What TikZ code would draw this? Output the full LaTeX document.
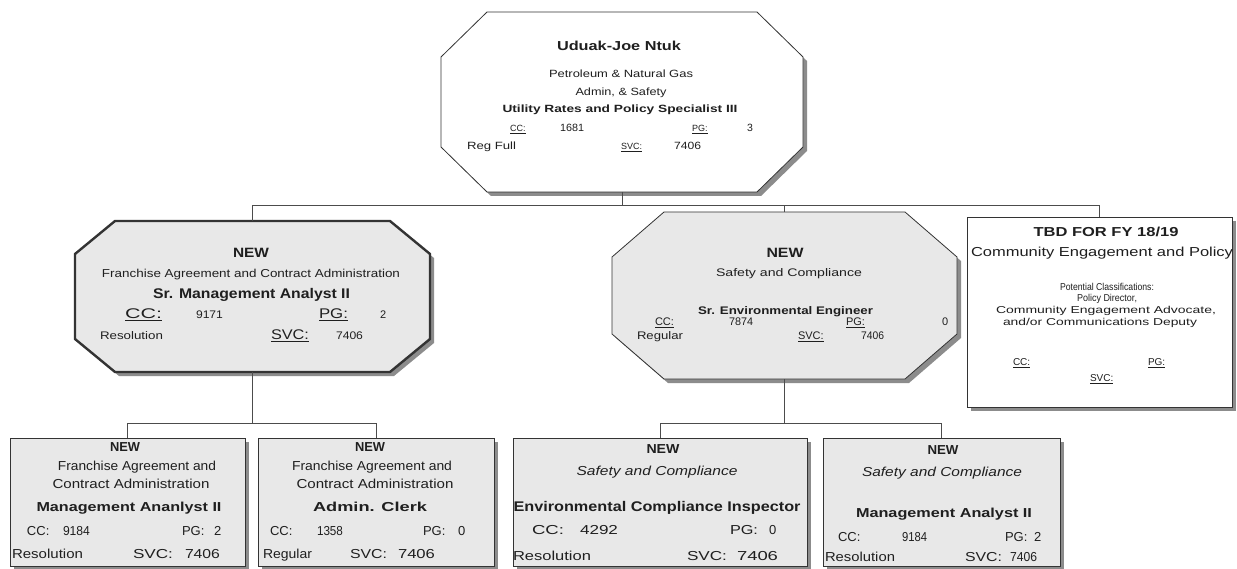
\documentclass[tikz,border=0pt]{standalone}
\usepackage{fontspec}
\setmainfont{Liberation Sans}
\usepackage{graphicx}
\definecolor{stip}{gray}{0.91}
\definecolor{shd}{gray}{0.55}
\definecolor{ink}{gray}{0.12}
\newsavebox\fwbox
\newcommand\fw[2]{\sbox\fwbox{#2}\scalebox{\fpeval{round(#1/(\the\wd\fwbox),4)}}[1]{\usebox\fwbox}}
\newcommand\fs[1]{\fontsize{#1}{#1}\selectfont}
\newcommand\octpath[5]{([xshift=#2+#4,yshift=#5]#1.north west) -- ([xshift=-#2+#4,yshift=#5]#1.north east) -- ([xshift=#4,yshift=-#3+#5]#1.north east) -- ([xshift=#4,yshift=#3+#5]#1.south east) -- ([xshift=-#2+#4,yshift=#5]#1.south east) -- ([xshift=#2+#4,yshift=#5]#1.south west) -- ([xshift=#4,yshift=#3+#5]#1.south west) -- ([xshift=#4,yshift=-#3+#5]#1.north west) -- cycle}
\begin{document}
\begin{tikzpicture}[x=1pt,y=-1pt,
  frame/.style={inner sep=0pt,outer sep=0pt,draw=none},
  boxline/.style={draw=black!80,line width=0.8pt},
  conn/.style={draw=black!70,line width=0.8pt},
  tx/.style={inner sep=0pt,outer sep=0pt,anchor=mid,text=ink,yshift=-1.2pt},
  tw/.style={tx,anchor=mid west}]
\useasboundingbox[fill=white] (0,0) rectangle (1237,569);
% frames
\node[frame,minimum width=362pt,minimum height=180pt] (top) at (622,102) {};
\node[frame,minimum width=355pt,minimum height=151pt] (left) at (252.5,296.5) {};
\node[frame,minimum width=345pt,minimum height=167pt] (mid) at (784.5,295.5) {};
\node[frame,minimum width=265pt,minimum height=190pt] (right) at (1099.5,312) {};
\node[frame,minimum width=235pt,minimum height=128pt] (b1) at (127.5,502) {};
\node[frame,minimum width=236pt,minimum height=128pt] (b2) at (376,502) {};
\node[frame,minimum width=294pt,minimum height=128pt] (b3) at (660,502) {};
\node[frame,minimum width=237pt,minimum height=128pt] (b4) at (941.5,502) {};
% shapes
\fill[shd] \octpath{top}{46}{45}{4}{-4};
\draw[boxline,fill=white] \octpath{top}{46}{45}{0}{0};
\fill[shd] \octpath{left}{40}{33}{4}{-4};
\draw[boxline,line width=2.4pt,fill=stip] \octpath{left}{40}{33}{0}{0};
\fill[shd] \octpath{mid}{52}{45}{4}{-4};
\draw[boxline,fill=stip] \octpath{mid}{52}{45}{0}{0};
\fill[shd] ([shift={(4pt,-4pt)}]right.north west) rectangle ([shift={(4pt,-4pt)}]right.south east);
\draw[boxline,fill=white] (right.north west) rectangle (right.south east);
\foreach \b in {b1,b2,b3,b4}{
  \fill[shd] ([shift={(4pt,-4pt)}]\b.north west) rectangle ([shift={(4pt,-4pt)}]\b.south east);
  \draw[boxline,fill=stip] (\b.north west) rectangle (\b.south east);
}
% connectors
\coordinate (busA) at (622,205);
\coordinate (busB) at (0,423);
\draw[conn] (top.south) -- (top.south |- busA);
\draw[conn] (left.north) -- (left.north |- busA) -- (right.north |- busA) -- (right.north);
\draw[conn] (mid.north) -- (mid.north |- busA);
\draw[conn] (left.south) -- (left.south |- busB);
\draw[conn] (b1.north) -- (b1.north |- busB) -- (b2.north |- busB) -- (b2.north);
\draw[conn] (mid.south) -- (mid.south |- busB);
\draw[conn] (b3.north) -- (b3.north |- busB) -- (b4.north |- busB) -- (b4.north);
% top box text
\node[tx] (t1) at (619,47) {\fs{13}\bfseries\fw{124}{Uduak-Joe Ntuk}};
\node[tx] (t2) at (621,74) {\fs{10.5}\fw{144}{Petroleum \& Natural Gas}};
\node[tx] (t3) at (621,92) {\fs{10.5}\fw{91}{Admin, \& Safety}};
\node[tx] (t4) at (620,109) {\fs{10.5}\bfseries\fw{235}{Utility Rates and Policy Specialist III}};
\node[tw] (t5) at (510,128) {\fs{9}\underline{CC:}};
\node[tw] (t6) at (560,128) {\fs{10.5}\fw{24}{1681}};
\node[tw] (t7) at (692,128) {\fs{9}\underline{PG:}};
\node[tw] (t8) at (747,128) {\fs{10.5}3};
\node[tw] (t9) at (467,146) {\fs{10.5}\fw{49}{Reg Full}};
\node[tw] (t10) at (621,146) {\fs{9}\underline{SVC:}};
\node[tw] (t11) at (674,146) {\fs{10.5}\fw{27}{7406}};
% left box text
\node[tx] (l1) at (251,254) {\fs{13.5}\bfseries\fw{36}{NEW}};
\node[tx] (l2) at (251,274) {\fs{11.5}\fw{298}{Franchise Agreement and Contract Administration}};
\node[tx] (l3) at (251.5,295) {\fs{14}\bfseries\fw{197}{Sr. Management Analyst II}};
\node[tw] (l4) at (125,315) {\fs{14}\fw{37}{\underline{CC:}}};
\node[tw] (l5) at (196,315) {\fs{11}\fw{27}{9171}};
\node[tw] (l6) at (319,315) {\fs{14}\fw{29}{\underline{PG:}}};
\node[tw] (l7) at (380,315) {\fs{11}2};
\node[tw] (l8) at (100,336) {\fs{11}\fw{63}{Resolution}};
\node[tw] (l9) at (271,336) {\fs{14}\fw{38}{\underline{SVC:}}};
\node[tw] (l10) at (336,336) {\fs{11}\fw{27}{7406}};
% middle box text
\node[tx] (m1) at (785,254) {\fs{13.5}\bfseries\fw{37}{NEW}};
\node[tx] (m2) at (789,273) {\fs{11}\fw{146}{Safety and Compliance}};
\node[tx] (m3) at (785.5,311) {\fs{11}\bfseries\fw{175}{Sr. Environmental Engineer}};
\node[tw] (m4) at (655,322) {\fs{11}\underline{CC:}};
\node[tw] (m5) at (729,322) {\fs{11}\fw{24}{7874}};
\node[tw] (m6) at (846,322) {\fs{11}\underline{PG:}};
\node[tw] (m7) at (942,322) {\fs{11}0};
\node[tw] (m8) at (637,336) {\fs{11}\fw{46}{Regular}};
\node[tw] (m9) at (798,336) {\fs{11}\underline{SVC:}};
\node[tw] (m10) at (861,336) {\fs{11}\fw{23}{7406}};
% right box text
\node[tx] (r1) at (1106,233) {\fs{13}\bfseries\fw{145}{TBD FOR FY 18/19}};
\node[tx] (r2) at (1102,253) {\fs{13}\fw{262}{Community Engagement and Policy}};
\node[tx] (r3) at (1107,287) {\fs{10}\fw{94}{Potential Classifications:}};
\node[tx] (r4) at (1107,298) {\fs{10}\fw{60}{Policy Director,}};
\node[tx] (r5) at (1106,310) {\fs{10}\fw{220}{Community Engagement Advocate,}};
\node[tx] (r6) at (1100,322) {\fs{10}\fw{194}{and/or Communications Deputy}};
\node[tw] (r7) at (1013,362) {\fs{10}\underline{CC:}};
\node[tw] (r8) at (1148,362) {\fs{10}\underline{PG:}};
\node[tw] (r9) at (1090,378) {\fs{10}\underline{SVC:}};
% bottom box 1
\node[tx] (a1) at (125,448) {\fs{13}\bfseries\fw{30}{NEW}};
\node[tx] (a2) at (137,467) {\fs{13}\fw{158}{Franchise Agreement and}};
\node[tx] (a3) at (131,485) {\fs{13}\fw{157}{Contract Administration}};
\node[tx] (a4) at (129,508) {\fs{13}\bfseries\fw{185}{Management Ananlyst II}};
\node[tw] (a5) at (27,532) {\fs{13}CC:};
\node[tw] (a6) at (63,532) {\fs{13}\fw{27}{9184}};
\node[tw] (a7) at (182,532) {\fs{13}PG:};
\node[tw] (a8) at (214,532) {\fs{13}2};
\node[tw] (a9) at (12,555) {\fs{13}\fw{71}{Resolution}};
\node[tw] (a10) at (133,555) {\fs{13}\fw{40}{SVC:}};
\node[tw] (a11) at (185,555) {\fs{13}\fw{35}{7406}};
% bottom box 2
\node[tx] (c1) at (370,448) {\fs{13}\bfseries\fw{30}{NEW}};
\node[tx] (c2) at (372,467) {\fs{13}\fw{160}{Franchise Agreement and}};
\node[tx] (c3) at (375,485) {\fs{13}\fw{157}{Contract Administration}};
\node[tx] (c4) at (370,508) {\fs{13}\bfseries\fw{114}{Admin. Clerk}};
\node[tw] (c5) at (270,532) {\fs{13}CC:};
\node[tw] (c6) at (317,532) {\fs{13}\fw{26}{1358}};
\node[tw] (c7) at (423,532) {\fs{13}PG:};
\node[tw] (c8) at (458,532) {\fs{13}0};
\node[tw] (c9) at (263,555) {\fs{13}\fw{49}{Regular}};
\node[tw] (c10) at (350,555) {\fs{13}\fw{37}{SVC:}};
\node[tw] (c11) at (398,555) {\fs{13}\fw{37}{7406}};
% bottom box 3
\node[tx] (d1) at (663,450) {\fs{13}\bfseries\fw{33}{NEW}};
\node[tx] (d2) at (657,472) {\fs{13}\itshape\fw{161}{Safety and Compliance}};
\node[tx] (d3) at (657,508) {\fs{14}\bfseries\fw{287}{Environmental Compliance Inspector}};
\node[tw] (d4) at (532,531) {\fs{13}\fw{32}{CC:}};
\node[tw] (d5) at (580,531) {\fs{13}\fw{38}{4292}};
\node[tw] (d6) at (730,531) {\fs{13}\fw{28}{PG:}};
\node[tw] (d7) at (769,531) {\fs{13}0};
\node[tw] (d8) at (513,557) {\fs{13}\fw{78}{Resolution}};
\node[tw] (d9) at (687,557) {\fs{13}\fw{40}{SVC:}};
\node[tw] (d10) at (737,557) {\fs{13}\fw{41}{7406}};
% bottom box 4
\node[tx] (e1) at (943,451) {\fs{13}\bfseries\fw{31}{NEW}};
\node[tx] (e2) at (942,473) {\fs{13}\itshape\fw{160}{Safety and Compliance}};
\node[tx] (e3) at (944,514) {\fs{13}\bfseries\fw{176}{Management Analyst II}};
\node[tw] (e4) at (838,538) {\fs{13}CC:};
\node[tw] (e5) at (902,538) {\fs{13}\fw{25}{9184}};
\node[tw] (e6) at (1005,538) {\fs{13}PG:};
\node[tw] (e7) at (1034,538) {\fs{13}2};
\node[tw] (e8) at (825,558) {\fs{13}\fw{70}{Resolution}};
\node[tw] (e9) at (965,558) {\fs{13}\fw{37}{SVC:}};
\node[tw] (e10) at (1010,558) {\fs{13}\fw{27}{7406}};
\end{tikzpicture}
\end{document}
